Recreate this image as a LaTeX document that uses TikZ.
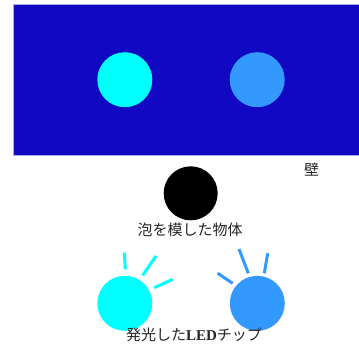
\documentclass[tikz,border=0pt]{standalone}
\usepackage{fontspec}
\newfontfamily\jp{Noto Sans CJK JP}
\newfontfamily\ledfont{Liberation Serif}
\definecolor{wallblue}{RGB}{17,8,196}
\definecolor{walledge}{RGB}{170,170,230}
\definecolor{ledcyan}{RGB}{0,255,255}
\definecolor{ledblue}{RGB}{51,153,255}
\begin{document}
\begin{tikzpicture}[x=1pt,y=-1pt,
  dot/.style={circle,minimum size=55pt,inner sep=0pt},
  ray/.style={line width=3pt},
  lbl/.style={font=\jp\fontsize{15}{15}\selectfont,inner sep=0pt,text=black!85}]
\useasboundingbox (0,0) rectangle (359,349);
\fill[white] (0,0) rectangle (359,349);
% wall
\node[draw=walledge,fill=wallblue,line width=0.8pt,minimum width=347pt,minimum height=151pt,inner sep=0pt,anchor=north west] (wall) at (12.7,4) {};
\node[dot,fill=ledcyan] (c1) at (124.8,79.7) {};
\node[dot,fill=ledblue] (c2) at (257.2,79.7) {};
\node[lbl] (wlbl) at (311.5,170) {壁};
% bubble object
\node[dot,fill=black,minimum size=54pt] (bub) at (190.7,193.3) {};
\node[lbl] (blbl) at (190,230) {泡を模した物体};
% LEDs
\node[dot,fill=ledcyan] (l1) at (124.8,303.3) {};
\node[dot,fill=ledblue] (l2) at (257.3,303.3) {};
\draw[ray,ledcyan] (124.3,252.7) -- (125.3,269.3);
\draw[ray,ledcyan] (156,256) -- (142.7,275.3);
\draw[ray,ledcyan] (172.7,279.3) -- (154.3,287.7);
\draw[ray,ledblue] (217.7,273.3) -- (232.7,283.3);
\draw[ray,ledblue] (239,249) -- (248.3,273.3);
\draw[ray,ledblue] (267.7,253.3) -- (264.3,273.3);
\node[lbl] (llbl) at (194,335) {発光した{\ledfont\bfseries LED}チップ};
\end{tikzpicture}
\end{document}
